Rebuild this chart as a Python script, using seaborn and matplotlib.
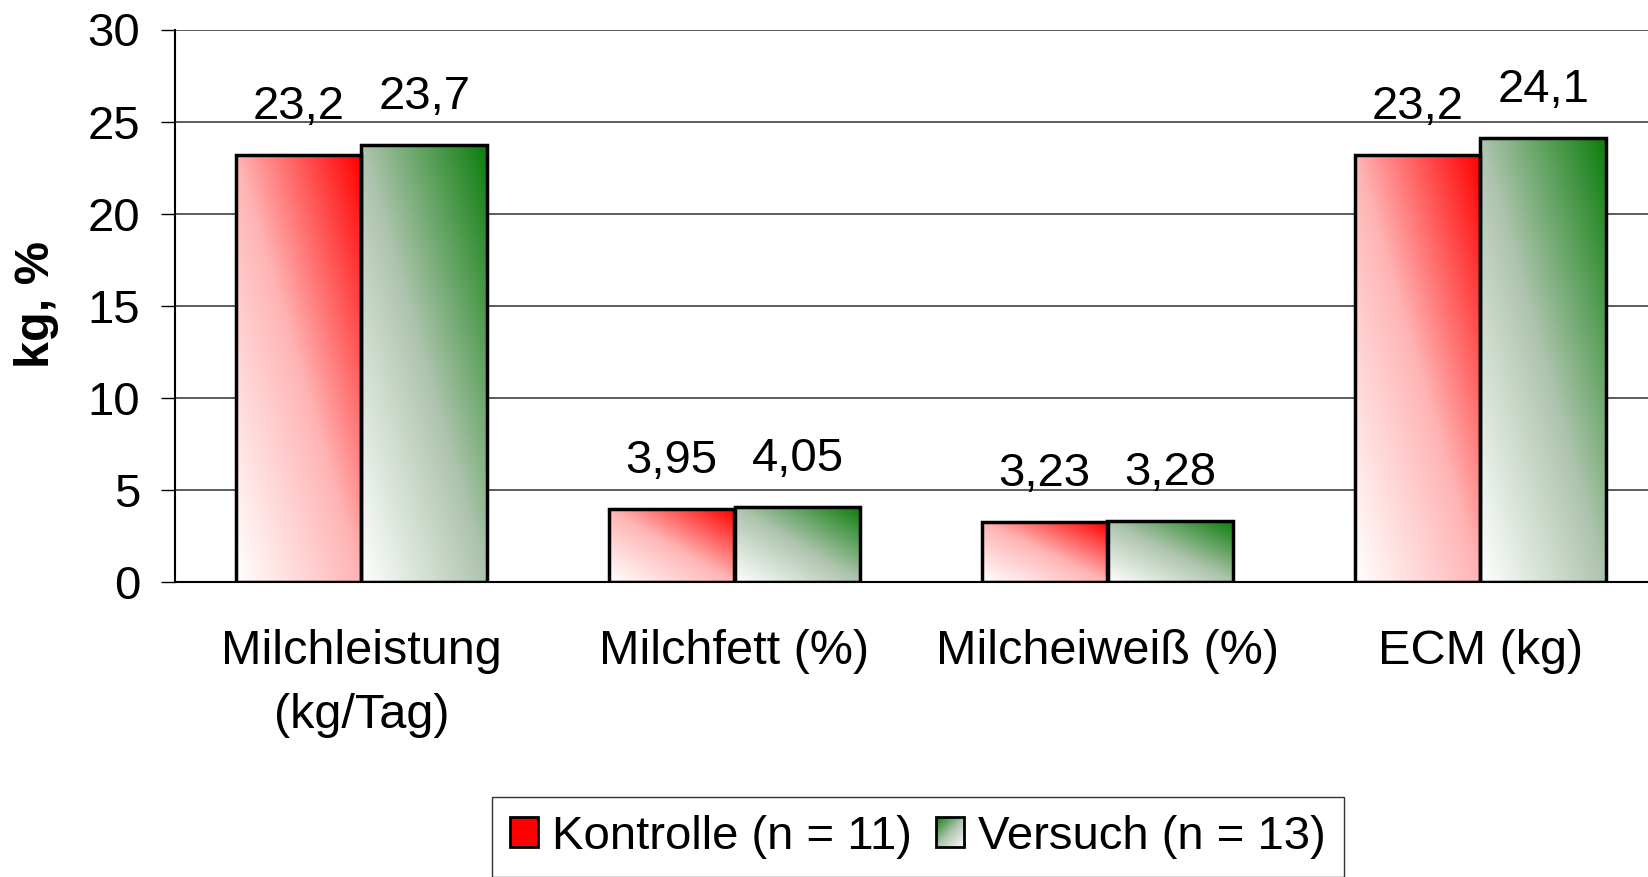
import numpy as np
import pandas as pd
import seaborn as sns
import matplotlib.pyplot as plt
from matplotlib.colors import LinearSegmentedColormap, Normalize
from matplotlib.patches import Patch, Rectangle
from matplotlib.legend_handler import HandlerBase
from matplotlib.image import BboxImage
from matplotlib.transforms import Bbox, TransformedBbox

# Data
parameters = ["Milchleistung\n(kg/Tag)", "Milchfett (%)", "Milcheiweiß (%)", "ECM (kg)"]
kontrolle = [23.2, 3.95, 3.23, 23.2]
versuch = [23.7, 4.05, 3.28, 24.1]
decimals = [1, 2, 2, 1]
groups = ["Kontrolle (n = 11)", "Versuch (n = 13)"]

df = pd.DataFrame({
    "Parameter": parameters * 2,
    "Wert": kontrolle + versuch,
    "Gruppe": [groups[0]] * 4 + [groups[1]] * 4,
})

sns.set_style("white")
plt.rcParams["font.family"] = ["Liberation Sans", "DejaVu Sans"]
plt.rcParams["text.color"] = "black"
plt.rcParams["xtick.color"] = "black"
plt.rcParams["ytick.color"] = "black"

# gradient colour maps (white lower-left -> full colour upper-right)
red_cmap = LinearSegmentedColormap.from_list(
    "rot", [(0, "#ffffff"), (0.5, "#ffb4b4"), (1, "#ff0000")])
green_cmap = LinearSegmentedColormap.from_list(
    "gruen", [(0, "#ffffff"), (0.5, "#aec4ae"), (1, "#0e7e0e")])

n = 200
u, v = np.meshgrid(np.linspace(0, 1, n), np.linspace(0, 1, n))
grad = (u + v) / 2


class GradientHandler(HandlerBase):
    # legend box with a gradient fill
    def __init__(self, cmap, data):
        super().__init__()
        self.cmap = cmap
        self.data = data

    def create_artists(self, legend, orig_handle, xdescent, ydescent,
                       width, height, fontsize, trans):
        bb = TransformedBbox(Bbox.from_bounds(-xdescent, -ydescent, width, height), trans)
        img = BboxImage(bb, cmap=self.cmap, norm=Normalize(0, 1), origin="lower",
                        interpolation="bilinear")
        img.set_data(self.data)
        rect = Rectangle((-xdescent, -ydescent), width, height, facecolor="none",
                         edgecolor="black", linewidth=2, transform=trans)
        return [img, rect]


fig = plt.figure(figsize=(16.49, 8.77), dpi=100)
bottom = 295.4 / 877
top = 847.5 / 877
ax = fig.add_axes([175 / 1649, bottom, 1492 / 1649, top - bottom])

sns.barplot(data=df, x="Parameter", y="Wert", hue="Gruppe",
            palette=["#ff0000", "#7fa57f"], width=0.675,
            edgecolor="black", linewidth=2.5, saturation=1,
            legend=False, ax=ax)

# overlay diagonal gradient in each bar
for container, cmap, vals in zip(ax.containers, [red_cmap, green_cmap], [kontrolle, versuch]):
    for bar, val, dec in zip(container, vals, decimals):
        x, y = bar.get_x(), bar.get_y()
        w, h = bar.get_width(), bar.get_height()
        im = ax.imshow(grad, cmap=cmap, origin="lower", aspect="auto",
                       extent=[x, x + w, y, y + h], zorder=2, vmin=0, vmax=1)
        im.set_clip_path(bar)
        bar.set_facecolor("none")
        bar.set_zorder(3)
        label = f"{val:.{dec}f}".replace(".", ",")
        ax.annotate(label, xy=(x + w / 2, h), xytext=(0, 26),
                    textcoords="offset points", ha="center", va="baseline",
                    fontsize=34)

ax.set_xlim(-0.5, 3.5)
ax.set_ylim(0, 30)
ax.set_yticks(range(0, 31, 5))
ax.yaxis.grid(True, color="#404040", linewidth=1.2)
ax.set_axisbelow(True)

ax.set_xlabel("")
ax.set_ylabel("")
ax.set_xticks(range(4))
ax.set_xticklabels(parameters, fontsize=35, linespacing=1.55)
ax.set_xticks([-0.5, 0.5, 1.5, 2.5, 3.5], minor=True)
ax.tick_params(axis="x", which="major", length=0, pad=34)
ax.tick_params(axis="x", which="minor", length=11, width=1, direction="out", color="black")
ax.tick_params(axis="y", length=10, width=1, direction="out", color="black",
               labelsize=34, pad=15, left=True)

for side in ["top", "right"]:
    ax.spines[side].set_visible(False)
for side in ["left", "bottom"]:
    ax.spines[side].set_color("black")
    ax.spines[side].set_linewidth(1.5)

fig.text(37 / 1649, 1 - 305 / 877, "kg, %", rotation=90, ha="center", va="center",
         fontsize=35, fontweight="bold")

h_kontrolle = Patch(facecolor="#ff0000", edgecolor="black", linewidth=2)
h_versuch = Patch(facecolor="#9fbb9f", edgecolor="black", linewidth=2)
leg = fig.legend([h_kontrolle, h_versuch], groups, loc="upper left",
                 bbox_to_anchor=(492 / 1649, 1 - 797 / 877),
                 ncol=2, fontsize=34, frameon=True, fancybox=False, borderaxespad=0,
                 handlelength=0.6, handleheight=0.6, handletextpad=0.3,
                 columnspacing=0.5, borderpad=0.38,
                 handler_map={h_versuch: GradientHandler(green_cmap, ((1 - u) + v) / 2)})
leg.get_frame().set_edgecolor("black")
leg.get_frame().set_linewidth(1)

fig.savefig("out.png", dpi=100)
